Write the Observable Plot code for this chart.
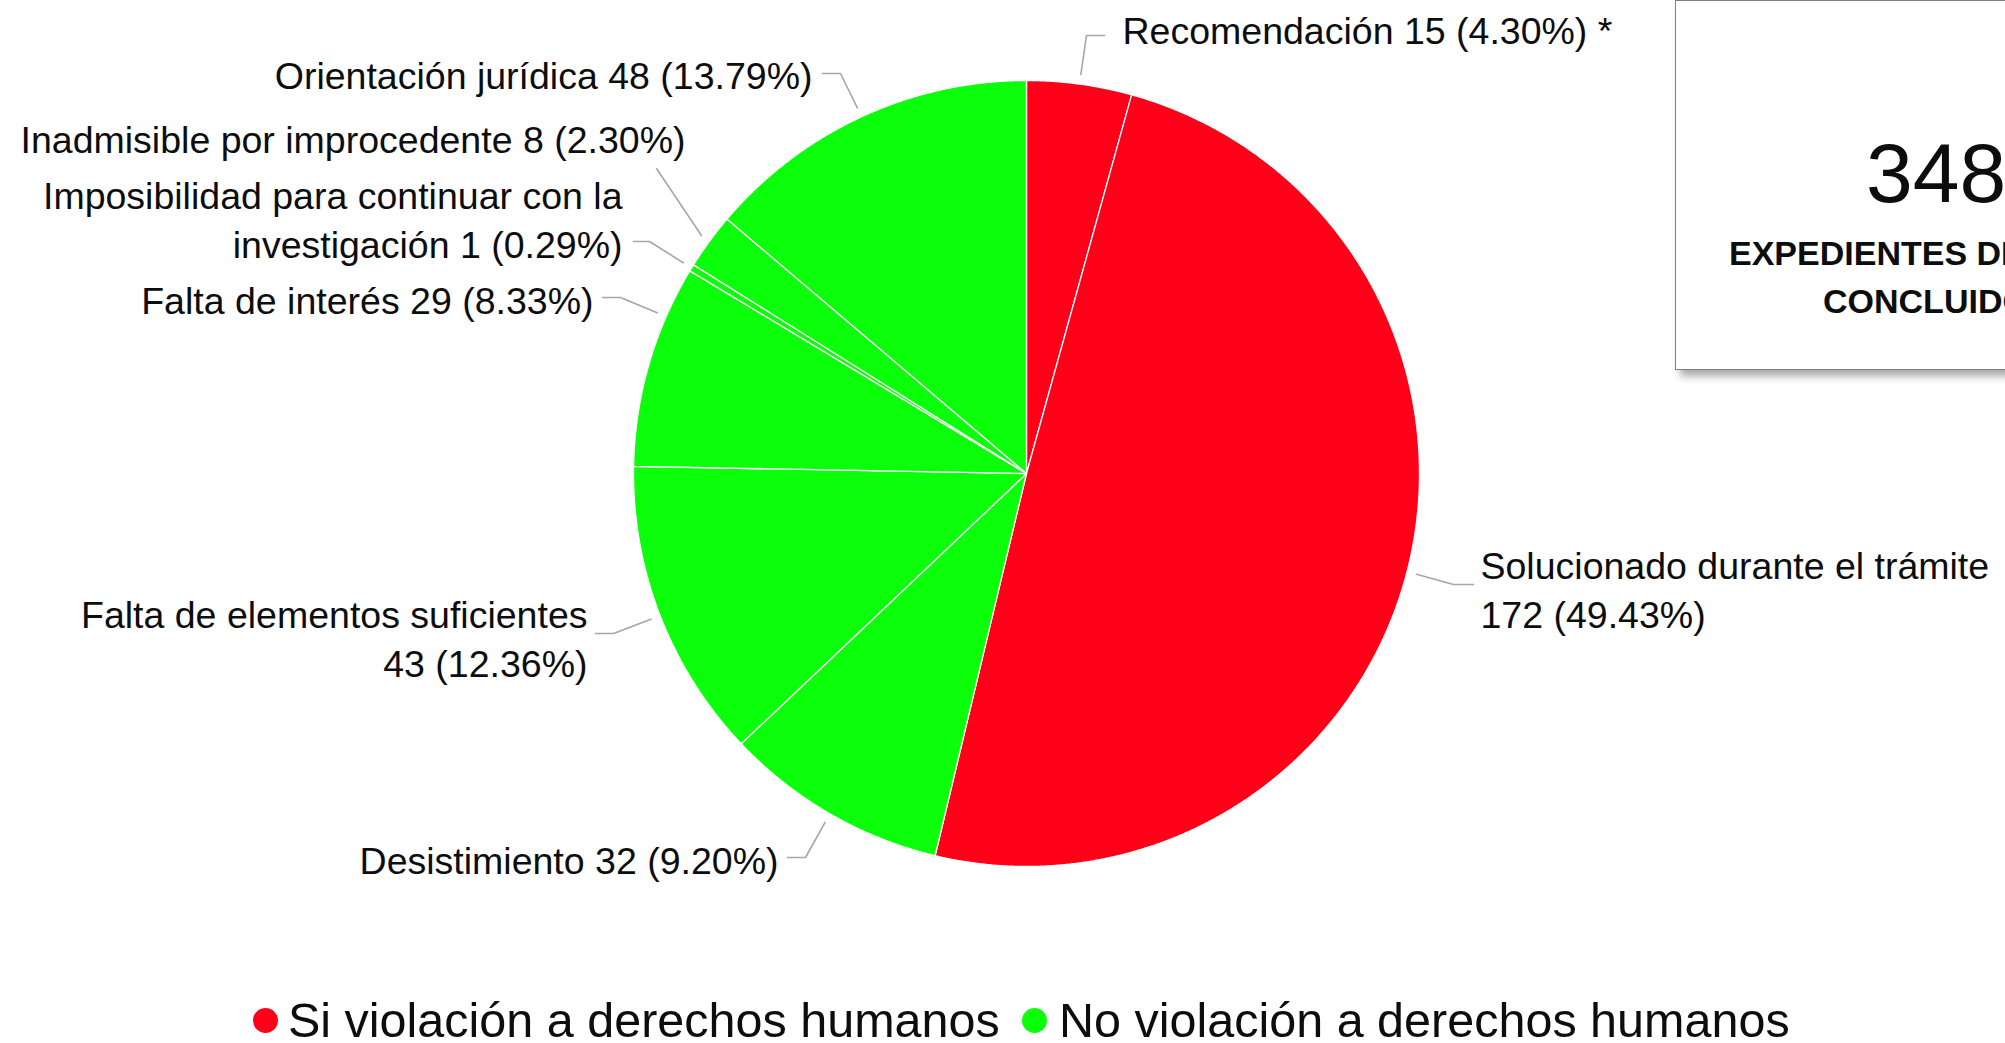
<!DOCTYPE html>
<html>
<head>
<meta charset="utf-8">
<script src="https://cdn.jsdelivr.net/npm/d3@7"></script>
<script src="https://cdn.jsdelivr.net/npm/@observablehq/plot@0.6"></script>
<style>
  html, body { margin: 0; padding: 0; background: #fff; overflow: hidden; }
  body { position: relative; width: 2005px; height: 1043px; font-family: "Liberation Sans", Arial, sans-serif; color: #0d0d0d; }
  #chart { position: absolute; left: 0; top: 0; }
  .box { position: absolute; left: 1675px; top: 0px; width: 420px; height: 368px; border: 1.5px solid #808080; background: #fff; box-shadow: 5px 6px 8px rgba(0,0,0,0.35); }
  .abs { position: absolute; white-space: nowrap; }
  .dot { position: absolute; width: 25px; height: 25px; border-radius: 50%; }
</style>
</head>
<body>
<div id="chart"></div>
<div class="box"></div>
<div class="abs" id="bigNum" style="left:1866px; top:131px; font-size:84px; line-height:84px;"></div>
<div class="abs" id="boxLine1" style="left:1729px; top:236px; font-size:34px; line-height:34px; font-weight:bold;"></div>
<div class="abs" id="boxLine2" style="left:1823px; top:284px; font-size:34px; line-height:34px; font-weight:bold;"></div>
<div id="legend"></div>
<script>
// ---------------- data ----------------
const categories = [
  "Recomendación",
  "Solucionado durante el trámite",
  "Desistimiento",
  "Falta de elementos suficientes",
  "Falta de interés",
  "Imposibilidad para continuar con la investigación",
  "Inadmisible por improcedente",
  "Orientación jurídica"
];
const counts = [15, 172, 32, 43, 29, 1, 8, 48];
const percents = ["4.30%", "49.43%", "9.20%", "12.36%", "8.33%", "0.29%", "2.30%", "13.79%"];
const groupNames = ["Si violación a derechos humanos", "No violación a derechos humanos"];
const sliceGroup = [0, 0, 1, 1, 1, 1, 1, 1];
const labelTexts = [
  "Recomendación 15 (4.30%) *",
  "Solucionado durante el trámite\n172 (49.43%)",
  "Desistimiento 32 (9.20%)",
  "Falta de elementos suficientes\n43 (12.36%)",
  "Falta de interés 29 (8.33%)",
  "Imposibilidad para continuar con la\ninvestigación 1 (0.29%)",
  "Inadmisible por improcedente 8 (2.30%)",
  "Orientación jurídica 48 (13.79%)"
];
const totalLabel = "348";
const totalCaption = ["EXPEDIENTES DE", "CONCLUIDOS"];

// ---------------- layout (pixels relative to the pie centre) ----------------
const W = 2005, H = 990;
const CX = 1026, CY = 473, R = 393;
const colors = ["#ff0018", "#0bff0b"];
// text anchor, leader elbow, leader end, side, attach point within slice
const labelLayout = [
  {tx: 96,   ty: -445, ex: 60,   ey: -438, nx: 78,   side: "start", attach: 0.5},
  {tx: 454,  ty: 114,  ex: 427,  ey: 111,  nx: 447,  side: "start", attach: 0.5},
  {tx: -248, ty: 385,  ex: -221, ey: 384,  nx: -239, side: "end",   attach: 0.5},
  {tx: -439, ty: 163,  ex: -413, ey: 160,  nx: -431, side: "end",   attach: 0.5},
  {tx: -433, ty: -175, ex: -406, ey: -176, nx: -424, side: "end",   attach: 0.75},
  {tx: -404, ty: -256, ex: -377, ey: -232, nx: -393, side: "end",   attach: 0.5},
  {tx: -341, ty: -336, ex: -370, ey: -305, nx: null, side: "end",   attach: 0.5},
  {tx: -214, ty: -400, ex: -186, ey: -400, nx: -204, side: "end",   attach: 0.5}
];

// ---------------- build marks data ----------------
const arcs = d3.pie().sort(null).value(d => d)(counts);
const sliceRows = [];
arcs.forEach((a, i) => {
  const g = groupNames[sliceGroup[i]];
  sliceRows.push({slice: i, group: g, x: 0, y: 0});
  const n = Math.max(2, Math.ceil((a.endAngle - a.startAngle) / (Math.PI / 720)));
  for (let k = 0; k <= n; k++) {
    const t = a.startAngle + (a.endAngle - a.startAngle) * k / n;
    sliceRows.push({slice: i, group: g, x: R * Math.sin(t), y: -R * Math.cos(t)});
  }
  sliceRows.push({slice: i, group: g, x: 0, y: 0});
});

const leaderRows = [];
arcs.forEach((a, i) => {
  const L = labelLayout[i];
  const t = a.startAngle + (a.endAngle - a.startAngle) * L.attach;
  const r0 = R * 1.025;
  leaderRows.push({label: i, x: r0 * Math.sin(t), y: -r0 * Math.cos(t)});
  leaderRows.push({label: i, x: L.ex, y: L.ey});
  if (L.nx !== null) leaderRows.push({label: i, x: L.nx, y: L.ey});
});

const labelRows = labelTexts.map((t, i) => ({text: t, x: labelLayout[i].tx, y: labelLayout[i].ty, side: labelLayout[i].side}));

const fontFamily = "'Liberation Sans', Arial, sans-serif";
const chart = Plot.plot({
  width: W,
  height: H,
  margin: 0,
  style: {background: "transparent", fontFamily},
  x: {domain: [-CX, W - CX], range: [0, W], axis: null},
  y: {domain: [-CY, H - CY], range: [0, H], axis: null},
  color: {domain: groupNames, range: colors},
  marks: [
    Plot.line(sliceRows, {x: "x", y: "y", z: "slice", fill: "group", stroke: "white", strokeWidth: 1.3, curve: "linear"}),
    Plot.line(leaderRows, {x: "x", y: "y", z: "label", stroke: "#a6a6a6", strokeWidth: 1.6, curve: "linear"}),
    Plot.text(labelRows.filter(d => d.side === "start"), {x: "x", y: "y", text: "text", textAnchor: "start", lineAnchor: "middle", lineHeight: 1.32, fontSize: 37.5, fill: "#0d0d0d", fontFamily}),
    Plot.text(labelRows.filter(d => d.side === "end"), {x: "x", y: "y", text: "text", textAnchor: "end", lineAnchor: "middle", lineHeight: 1.32, fontSize: 37.5, fill: "#0d0d0d", fontFamily})
  ]
});
document.getElementById("chart").appendChild(chart);

// ---------------- side box ----------------
document.getElementById("bigNum").textContent = totalLabel;
document.getElementById("boxLine1").textContent = totalCaption[0];
document.getElementById("boxLine2").textContent = totalCaption[1];

// ---------------- legend ----------------
const legend = document.getElementById("legend");
const legendPos = [{dot: 265, text: 288}, {dot: 1034, text: 1059}];
groupNames.forEach((g, i) => {
  const d = document.createElement("div");
  d.className = "dot";
  d.style.left = (legendPos[i].dot - 12.5) + "px";
  d.style.top = (1020 - 12.5) + "px";
  d.style.background = colors[i];
  legend.appendChild(d);
  const t = document.createElement("div");
  t.className = "abs";
  t.style.left = legendPos[i].text + "px";
  t.style.top = "990px";
  t.style.fontSize = "48.5px";
  t.style.lineHeight = "60px";
  t.textContent = g;
  legend.appendChild(t);
});
</script>
</body>
</html>
